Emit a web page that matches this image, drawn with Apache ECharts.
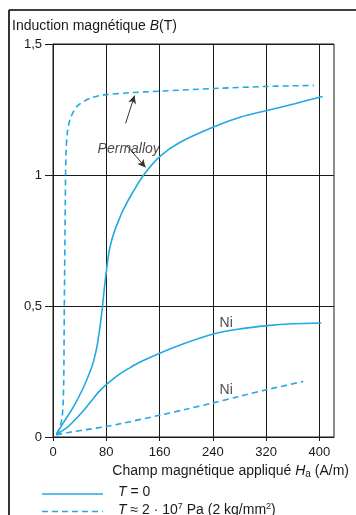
<!DOCTYPE html>
<html><head><meta charset="utf-8">
<script src="https://cdn.jsdelivr.net/npm/echarts@6/dist/echarts.min.js"></script>
<style>html,body{margin:0;padding:0;background:#fff}#c{width:356px;height:515px}</style>
</head><body><div id="c"></div>
<script>
// Tick values
const xTicks = [0, 80, 160, 240, 320, 400];
const yTicks = [0, 0.5, 1, 1.5];

// Permalloy, T = 0 (solid)  [H (A/m), B (T)]
const permalloyT0 = [[5,0.01],[15,0.052],[30,0.112],[45,0.185],[58,0.265],[62,0.30],[66,0.345],[70,0.41],[74,0.49],[77,0.565],[80,0.63],[84,0.705],[88,0.75],[93,0.79],[100,0.835],[105,0.865],[120,0.935],[137,1.003],[161,1.072],[191,1.125],[241,1.183],[282,1.221],[321,1.246],[363,1.272],[405,1.30]];
// Permalloy, under stress (dashed)
const permalloyStress = [[5,0.01],[10,0.035],[14,0.08],[16,0.2],[17,0.5],[18.5,0.9],[19.5,1.08],[22,1.17],[26,1.215],[36,1.262],[56,1.293],[75,1.305],[116,1.314],[161,1.32],[241,1.33],[321,1.338],[392,1.342]];
// Ni, T = 0 (solid)
const nickelT0 = [[5,0.01],[15,0.025],[25,0.045],[45,0.098],[60,0.145],[70,0.176],[80,0.2],[100,0.24],[116,0.265],[130,0.285],[156,0.315],[192,0.352],[241,0.393],[280,0.412],[322,0.425],[360,0.432],[403,0.435]];
// Ni, under stress (dashed)
const nickelStress = [[5,0.008],[25,0.018],[50,0.028],[80,0.04],[100,0.05],[160,0.083],[200,0.106],[240,0.13],[280,0.155],[320,0.18],[376,0.212]];

// Curve annotations [H, B, text]
const curveLabels = [[113.7,1.1,'Permalloy'],[260,0.434,'Ni'],[260,0.18,'Ni']];
const arrows = [[[109,1.197],[122.5,1.303]],[[110.5,1.113],[139,1.029]]];

// Legend texts
const legendTexts = ['{i|T} = 0', '{i|T} ≈ 2 · 10{sup|7} Pa (2 kg/mm{sup|2})'];

const BLUE = '#22a8e2';
const INK = '#1a1a1a';
const FONT = '"Liberation Sans", Arial, Helvetica, sans-serif';
const RICH = {
  i:{fontStyle:'italic', fontSize:14, fill:INK, color:INK, fontFamily:FONT, lineHeight:16},
  sup:{fontSize:9, fill:INK, color:INK, fontFamily:FONT, verticalAlign:'top', lineHeight:9},
  sub:{fontSize:10, fill:INK, color:INK, fontFamily:FONT, verticalAlign:'bottom', lineHeight:10}
};

const chart = echarts.init(document.getElementById('c'), null, {renderer:'canvas'});

function curve(name, data, dashed){
  return {
    type:'line', name, data, smooth:0.3,
    symbol:'none', showSymbol:false, silent:true,
    lineStyle:{color:BLUE, width:1.6, type: dashed ? [6,4] : 'solid'},
    itemStyle:{color:BLUE}, z:3
  };
}

chart.setOption({
  animation:false,
  textStyle:{fontFamily:FONT},
  title:[
    {text:'Induction magnétique {i|B}(T)', left:12, top:18, padding:0,
     textStyle:{fontSize:14, fontWeight:'normal', color:INK, fontFamily:FONT, rich:RICH}},
    {text:'Champ magnétique appliqué {i|H}{sub|a} (A/m)', right:7, top:463, padding:0,
     textStyle:{fontSize:14, fontWeight:'normal', color:INK, fontFamily:FONT, lineHeight:16, rich:RICH}}
  ],
  grid:{left:53, right:22, top:44, bottom:78, show:true, borderColor:INK, borderWidth:1, backgroundColor:'transparent'},
  xAxis:{
    type:'value', min:0, max:422, interval:80,
    axisLine:{show:true, onZero:false, lineStyle:{color:INK, width:1}},
    axisTick:{show:true, length:4, lineStyle:{color:INK}, customValues:xTicks},
    axisLabel:{customValues:xTicks, margin:9, fontSize:13, color:INK, fontFamily:FONT},
    splitLine:{show:true, lineStyle:{color:INK, width:1}}
  },
  yAxis:{
    type:'value', min:0, max:1.5, interval:0.5,
    axisLine:{show:true, lineStyle:{color:INK, width:1}},
    axisTick:{show:true, length:8, lineStyle:{color:INK}, customValues:yTicks},
    axisLabel:{customValues:yTicks, margin:11, fontSize:13, color:INK, fontFamily:FONT,
      formatter:v => String(v).replace('.', ',')},
    splitLine:{show:true, lineStyle:{color:INK, width:1}}
  },
  series:[
    curve('T0', permalloyT0, false),
    curve('T1', permalloyStress, true),
    curve('T0', nickelT0, false),
    curve('T1', nickelStress, true),
    {
      type:'scatter', name:'labels', silent:true, symbolSize:0, z:5,
      data:curveLabels,
      label:{show:true, position:'inside', fontSize:14, color:INK, fontFamily:FONT,
        formatter:p => p.data[2] === 'Permalloy' ? '{i|Permalloy}' : p.data[2],
        rich:RICH},
      markLine:{
        silent:true, symbol:['none','arrow'], symbolSize:[6,8], animation:false,
        lineStyle:{color:'#333', width:1, type:'solid'}, label:{show:false},
        emphasis:{disabled:true},
        data:arrows.map(a => [{coord:a[0]},{coord:a[1]}])
      }
    }
  ],
  graphic:[
    {type:'line', shape:{x1:9, y1:10, x2:9, y2:515}, style:{stroke:'#000', lineWidth:1.6}, silent:true},
    {type:'line', shape:{x1:9, y1:10, x2:356, y2:10}, style:{stroke:'#000', lineWidth:1.6}, silent:true},
    {type:'line', shape:{x1:42, y1:494, x2:103, y2:494}, style:{stroke:BLUE, lineWidth:1.6}, silent:true},
    {type:'line', shape:{x1:42, y1:511.5, x2:103, y2:511.5}, style:{stroke:BLUE, lineWidth:1.6, lineDash:[6,4]}, silent:true},
    {type:'text', left:118, top:484, silent:true,
     style:{text:legendTexts[0], fontSize:14, fontFamily:FONT, fill:INK, lineHeight:16, rich:RICH}},
    {type:'text', left:118, top:502, silent:true,
     style:{text:legendTexts[1], fontSize:14, fontFamily:FONT, fill:INK, lineHeight:16, rich:RICH}}
  ]
});
</script></body></html>
